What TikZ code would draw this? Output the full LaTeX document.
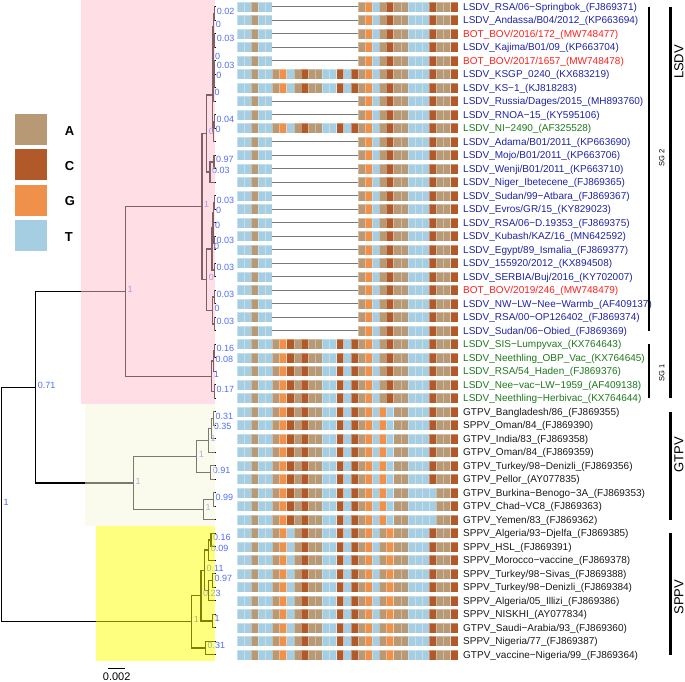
\documentclass[tikz,border=0pt]{standalone}
\usepackage{fontspec}
\setmainfont{Liberation Sans}
\usetikzlibrary{positioning}
\definecolor{baseA}{RGB}{184,153,117}
\definecolor{baseC}{RGB}{177,89,40}
\definecolor{baseG}{RGB}{239,145,74}
\definecolor{baseT}{RGB}{166,206,227}
\definecolor{tipblue}{RGB}{30,35,160}
\definecolor{tipred}{RGB}{255,30,30}
\definecolor{tipgreen}{RGB}{30,120,30}
\definecolor{tipblack}{RGB}{25,25,25}
\definecolor{supblue}{RGB}{80,110,240}
\definecolor{gapgray}{RGB}{120,120,120}
\definecolor{boxpink}{RGB}{255,192,203}
\definecolor{boxbeige}{RGB}{245,245,220}
\definecolor{boxyellow}{RGB}{255,255,0}

% alignment patterns, N = gap
\def\seqg{T,T,A,T,T,N,N,N,N,N,N,N,N,N,N,N,N,A,G,T,A,C,A,A,T,T,T,C,A,A,C}
\def\seqi{T,T,A,T,T,A,G,T,A,C,A,A,T,T,C,T,C,A,G,T,A,C,A,A,T,T,T,C,A,A,C}
\def\seqn{T,T,A,T,T,A,G,C,A,C,A,A,T,T,C,T,C,A,G,T,A,C,A,A,T,T,T,C,A,A,C}
\def\seqp{T,T,A,T,T,A,G,C,A,C,A,A,T,T,C,T,C,A,G,T,G,T,A,A,T,T,T,C,A,A,C}
\def\seqq{T,T,A,T,T,A,G,C,A,C,A,A,T,T,C,T,C,A,G,T,G,T,A,A,T,T,T,T,A,A,C}
\def\seqs{T,T,A,T,T,A,G,T,A,C,A,A,T,T,C,T,C,A,G,T,A,G,A,A,T,T,T,C,A,A,C}

\newcommand{\taxlab}[3]{\node[taxon,text=#2] (tip#1) at (463,{10.3+13.5*#1}) {#3};}

\begin{document}
\begin{tikzpicture}[x=1pt,y=-1pt,
  branch/.style={line width=1.3pt},
  support/.style={font=\fontsize{9}{9}\selectfont,text=supblue,anchor=base west,
                  inner sep=0pt,xshift=2pt,yshift=-1pt},
  taxon/.style={font=\fontsize{10}{10}\selectfont,anchor=base west,inner sep=0pt},
  clade/.style={line width=3.3pt},
  subclade/.style={line width=1.1pt},
  cladetxt/.style={font=\fontsize{13}{13}\selectfont,rotate=90,inner sep=0pt},
  subtxt/.style={font=\fontsize{7.5}{7.5}\selectfont,rotate=90,inner sep=0pt},
  legbox/.style={minimum width=33pt,minimum height=32pt,inner sep=0pt,draw=white,line width=0.8pt},
  legtxt/.style={font=\fontsize{13}{13}\selectfont\bfseries,inner sep=0pt,yshift=-1.5pt},
  cell/.style={draw=white,draw opacity=0.35,line width=0.3pt},
  cellA/.style={cell,fill=baseA},
  cellC/.style={cell,fill=baseC},
  cellG/.style={cell,fill=baseG},
  cellT/.style={cell,fill=baseT},
  cellN/.style={},
  gapline/.style={draw=gapgray,line width=1pt},
  cladebox/.style={fill opacity=0.5}
]
\useasboundingbox (0,0) rectangle (685,682);

% legend
\foreach \b/\i in {A/0,C/1,G/2,T/3}{
  \node[legbox,fill=base\b] (key\b) at (30.8,{129.2+35.4*\i}) {};
  \node[legtxt,right=17pt of key\b] (keytxt\b) {\b};
}

% alignment
\foreach \r/\k in {0/g,1/g,2/g,3/g,4/g,5/i,6/i,7/g,8/g,9/i,10/g,11/g,12/g,13/g,14/g,
  15/g,16/g,17/g,18/g,19/g,20/g,21/g,22/g,23/g,24/g,25/n,26/n,27/n,28/n,29/n,
  30/p,31/p,32/p,33/p,34/p,35/p,36/q,37/q,38/q,39/s,40/s,41/s,42/s,43/s,44/s,
  45/s,46/s,47/s,48/s}{
  \edef\cur{\csname seq\k\endcsname}
  \foreach \b [count=\c from 0] in \cur
    \path[cell\b] ({236.7+7.129*\c},{1.7+13.5*\r}) rectangle ++(7.129,10);
}
\foreach \r in {0,...,4,7,8,10,11,...,24}
  \draw[gapline] ({236.7+7.129*5},{6.7+13.5*\r}) -- ({236.7+7.129*17},{6.7+13.5*\r});

% tree
\foreach \i in {0,...,48} \coordinate (t\i) at (215.5,{6.7+13.5*\i});
\foreach \nd/\x/\y in {nA/214.7/13.45,nB/214.7/40.45,nC/213.7/26.95,nD/214.7/67.45,
  nE/214.2/77.6,nX/213.5/89.4,nQ/213.0/58.2,nG/214.5/121.45,nGp/213.5/131.6,
  nF/212.3/94.9,nH/214.0/161.95,nI/210.0/172.1,nU/206.7/133.5,nJ/214.5/202.45,
  nK/213.8/212.6,nL/214.5/242.95,nR/213.0/227.8,nM/214.5/269.95,nS/212.0/248.9,
  nN/214.5/296.95,nP/214.5/323.95,nO/212.5/310.45,nV/206.7/279.7,nW/202.0/206.6,
  a1/214.5/350.95,a2/213.5/361.1,a3/214.5/391.45,nZ/211.7/376.3,nLc/125.3/291.45,
  g1/213.3/418.45,g2/211.7/428.6,g3/208.3/440.4,g4/210.7/472.45,g5/196.7/456.4,
  g6/213.3/499.45,g7/203.3/509.6,nGc/133.3/483.0,
  s1/211.0/539.95,s2/208.7/550.1,s3/212.3/580.45,s4/208.7/590.6,s5/204.5/570.35,
  s6/212.3/620.95,s7/201.0/595.65,s8/205.5/647.95,nSc/191.7/621.8,
  nNa/35.7/387.2,root/1.3/504.5}
  \coordinate (\nd) at (\x,\y);
\foreach \p/\c in {nA/t0,nA/t1,nB/t2,nB/t3,nC/nA,nC/nB,nD/t4,nD/t5,nE/nD,nE/t6,
  nX/nE,nX/t7,nQ/nC,nQ/nX,nG/t8,nG/t9,nGp/nG,nGp/t10,nF/nQ,nF/nGp,nH/t11,nH/t12,
  nI/nH,nI/t13,nU/nF,nU/nI,nJ/t14,nJ/t15,nK/nJ,nK/t16,nL/t17,nL/t18,nR/nK,nR/nL,
  nM/t19,nM/t20,nS/nR,nS/nM,nN/t21,nN/t22,nP/t23,nP/t24,nO/nN,nO/nP,nV/nS,nV/nO,
  nW/nU,nW/nV,a1/t25,a1/t26,a2/a1,a2/t27,a3/t28,a3/t29,nZ/a2,nZ/a3,nLc/nW,nLc/nZ,
  g1/t30,g1/t31,g2/g1,g2/t32,g3/g2,g3/t33,g4/t34,g4/t35,g5/g3,g5/g4,g6/t36,g6/t37,
  g7/g6,g7/t38,nGc/g5,nGc/g7,s1/t39,s1/t40,s2/s1,s2/t41,s3/t42,s3/t43,s4/s3,s4/t44,
  s5/s2,s5/s4,s6/t45,s6/t46,s7/s5,s7/s6,s8/t47,s8/t48,nSc/s7,nSc/s8,
  nNa/nLc,nNa/nGc,root/nNa,root/nSc}
  \draw[branch] (\p) |- (\c);
\foreach \nd/\v in {nA/0.02,nB/0.03,nC/0,nD/0.03,nE/0,nQ/0,nG/0.04,nGp/0,nF/0,
  nH/0.97,nI/0.03,nU/0,nJ/0.03,nK/0,nL/0.03,nR/0,nM/0.03,nS/0,nN/0.03,nP/0.03,
  nO/0,nV/0,nW/1,a1/0.16,a2/0.08,a3/0.17,nZ/1,nLc/1,g1/0.31,g2/0.35,g3/1,g4/0.91,
  g5/1,g6/0.99,g7/1,nGc/1,s1/0.16,s2/0.09,s3/0.97,s5/0.11,s6/1,s7/0.23,s8/0.31,
  nSc/1,nNa/0.71,root/1}
  \node[support] (lab-\nd) at (\nd) {\v};

% clade shading
\fill[cladebox,boxpink] (80.7,0) rectangle (215,404.3);
\fill[cladebox,boxbeige] (85,404.3) rectangle (215,526);
\fill[cladebox,boxyellow] (96,526) rectangle (215,660.7);

% scale bar
\coordinate (sbl) at (108.3,668.3);
\coordinate (sbr) at (125,668.3);
\draw[line width=1.2pt] (sbl) -- (sbr);
\node[font=\fontsize{11}{11}\selectfont,anchor=base,inner sep=0pt] (sbtxt) at (116.7,680.7) {0.002};

% tip labels
\taxlab{0}{tipblue}{LSDV\_RSA/06−Springbok\_(FJ869371)}
\taxlab{1}{tipblue}{LSDV\_Andassa/B04/2012\_(KP663694)}
\taxlab{2}{tipred}{BOT\_BOV/2016/172\_(MW748477)}
\taxlab{3}{tipblue}{LSDV\_Kajima/B01/09\_(KP663704)}
\taxlab{4}{tipred}{BOT\_BOV/2017/1657\_(MW748478)}
\taxlab{5}{tipblue}{LSDV\_KSGP\_0240\_(KX683219)}
\taxlab{6}{tipblue}{LSDV\_KS−1\_(KJ818283)}
\taxlab{7}{tipblue}{LSDV\_Russia/Dages/2015\_(MH893760)}
\taxlab{8}{tipblue}{LSDV\_RNOA−15\_(KY595106)}
\taxlab{9}{tipgreen}{LSDV\_NI−2490\_(AF325528)}
\taxlab{10}{tipblue}{LSDV\_Adama/B01/2011\_(KP663690)}
\taxlab{11}{tipblue}{LSDV\_Mojo/B01/2011\_(KP663706)}
\taxlab{12}{tipblue}{LSDV\_Wenji/B01/2011\_(KP663710)}
\taxlab{13}{tipblue}{LSDV\_Niger\_Ibetecene\_(FJ869365)}
\taxlab{14}{tipblue}{LSDV\_Sudan/99−Atbara\_(FJ869367)}
\taxlab{15}{tipblue}{LSDV\_Evros/GR/15\_(KY829023)}
\taxlab{16}{tipblue}{LSDV\_RSA/06−D.19353\_(FJ869375)}
\taxlab{17}{tipblue}{LSDV\_Kubash/KAZ/16\_(MN642592)}
\taxlab{18}{tipblue}{LSDV\_Egypt/89\_Ismalia\_(FJ869377)}
\taxlab{19}{tipblue}{LSDV\_155920/2012\_(KX894508)}
\taxlab{20}{tipblue}{LSDV\_SERBIA/Buj/2016\_(KY702007)}
\taxlab{21}{tipred}{BOT\_BOV/2019/246\_(MW748479)}
\taxlab{22}{tipblue}{LSDV\_NW−LW−Nee−Warmb\_(AF409137)}
\taxlab{23}{tipblue}{LSDV\_RSA/00−OP126402\_(FJ869374)}
\taxlab{24}{tipblue}{LSDV\_Sudan/06−Obied\_(FJ869369)}
\taxlab{25}{tipgreen}{LSDV\_SIS−Lumpyvax\_(KX764643)}
\taxlab{26}{tipgreen}{LSDV\_Neethling\_OBP\_Vac\_(KX764645)}
\taxlab{27}{tipgreen}{LSDV\_RSA/54\_Haden\_(FJ869376)}
\taxlab{28}{tipgreen}{LSDV\_Nee−vac−LW−1959\_(AF409138)}
\taxlab{29}{tipgreen}{LSDV\_Neethling−Herbivac\_(KX764644)}
\taxlab{30}{tipblack}{GTPV\_Bangladesh/86\_(FJ869355)}
\taxlab{31}{tipblack}{SPPV\_Oman/84\_(FJ869390)}
\taxlab{32}{tipblack}{GTPV\_India/83\_(FJ869358)}
\taxlab{33}{tipblack}{GTPV\_Oman/84\_(FJ869359)}
\taxlab{34}{tipblack}{GTPV\_Turkey/98−Denizli\_(FJ869356)}
\taxlab{35}{tipblack}{GTPV\_Pellor\_(AY077835)}
\taxlab{36}{tipblack}{GTPV\_Burkina−Benogo−3A\_(FJ869353)}
\taxlab{37}{tipblack}{GTPV\_Chad−VC8\_(FJ869363)}
\taxlab{38}{tipblack}{GTPV\_Yemen/83\_(FJ869362)}
\taxlab{39}{tipblack}{SPPV\_Algeria/93−Djelfa\_(FJ869385)}
\taxlab{40}{tipblack}{SPPV\_HSL\_(FJ869391)}
\taxlab{41}{tipblack}{SPPV\_Morocco−vaccine\_(FJ869378)}
\taxlab{42}{tipblack}{SPPV\_Turkey/98−Sivas\_(FJ869388)}
\taxlab{43}{tipblack}{SPPV\_Turkey/98−Denizli\_(FJ869384)}
\taxlab{44}{tipblack}{SPPV\_Algeria/05\_Illizi\_(FJ869386)}
\taxlab{45}{tipblack}{SPPV\_NISKHI\_(AY077834)}
\taxlab{46}{tipblack}{GTPV\_Saudi−Arabia/93\_(FJ869360)}
\taxlab{47}{tipblack}{SPPV\_Nigeria/77\_(FJ869387)}
\taxlab{48}{tipblack}{GTPV\_vaccine−Nigeria/99\_(FJ869364)}

% clade bars
\coordinate (sg2a) at (649,6.7);   \coordinate (sg2b) at (649,330.7);
\coordinate (sg1a) at (649,344.2); \coordinate (sg1b) at (649,398.2);
\draw[subclade] (sg2a) -- (sg2b);
\draw[subclade] (sg1a) -- (sg1b);
\node[subtxt] (sg2txt) at (661.7,157.8) {SG 2};
\node[subtxt] (sg1txt) at (661.7,373) {SG 1};
\coordinate (lsdva) at (670.5,6.7);   \coordinate (lsdvb) at (670.5,398.2);
\coordinate (gtpva) at (670.5,411.7); \coordinate (gtpvb) at (670.5,519.7);
\coordinate (sppva) at (670.5,533.2); \coordinate (sppvb) at (670.5,654.7);
\draw[clade] (lsdva) -- (lsdvb);
\draw[clade] (gtpva) -- (gtpvb);
\draw[clade] (sppva) -- (sppvb);
\node[cladetxt] (lsdvtxt) at (678.8,62) {LSDV};
\node[cladetxt] (gtpvtxt) at (678.8,455) {GTPV};
\node[cladetxt] (sppvtxt) at (678.8,597) {SPPV};
\end{tikzpicture}
\end{document}
